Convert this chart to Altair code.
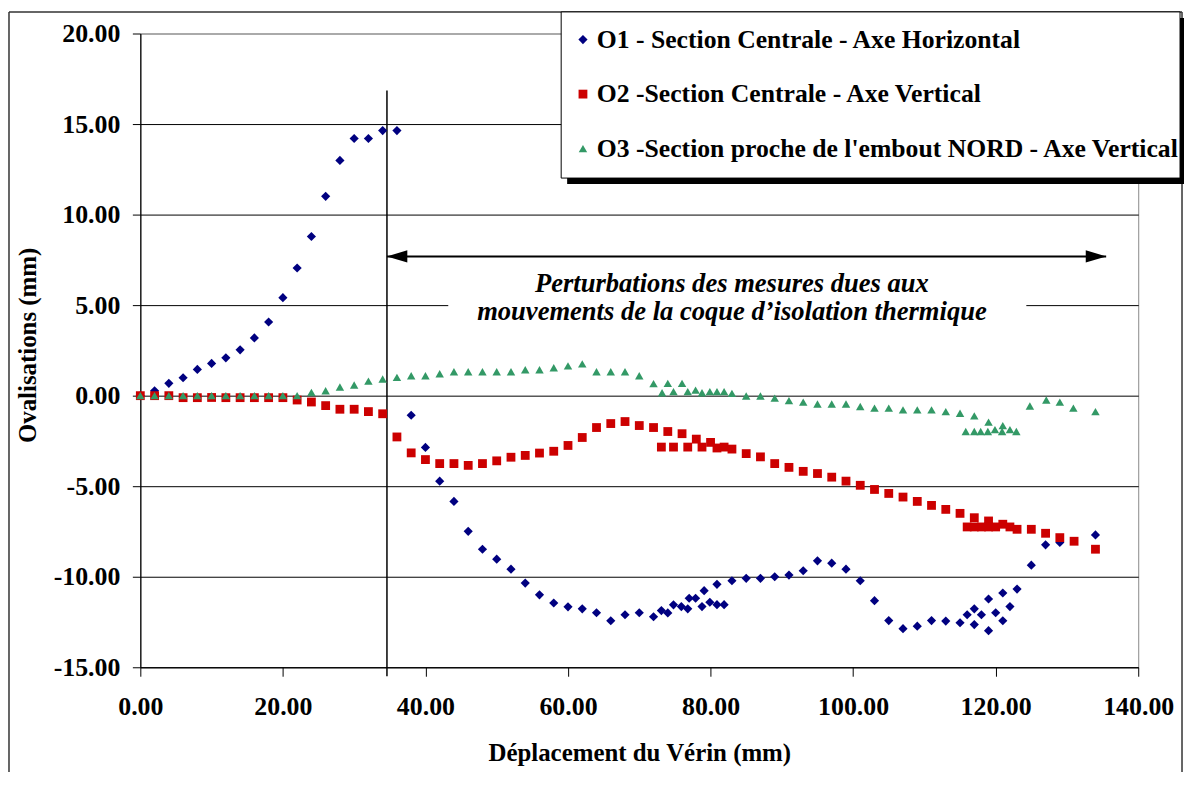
import altair as alt
import pandas as pd

FONT = "'Liberation Serif', 'Times New Roman', Times, serif"

# ---------------- data ----------------
series_names = [
    "O1 - Section Centrale - Axe Horizontal",
    "O2 -Section Centrale - Axe Vertical",
    "O3 -Section proche de l'embout NORD - Axe Vertical",
]
series_colors = ["#000080", "#CC0000", "#339966"]
series_shapes = ["diamond", "square", "triangle-up"]
series_sizes = [85, 72, 120]

o1_x = [0, 2, 4, 6, 8, 10, 12, 14, 16, 18, 20, 22, 24, 26, 28, 30, 32, 34, 36,
        38, 40, 42, 44, 46, 48, 50, 52, 54, 56, 58, 60, 62, 64, 66, 68, 70, 72,
        73.1, 74, 74.8, 75.9, 76.8, 77, 77.9, 78.8, 79.1, 79.9, 80.9, 80.9, 81.9,
        83, 85, 87, 89, 91, 93, 95, 97, 99, 101, 103, 105, 107, 109, 111, 113, 115,
        116, 117, 117, 118, 119, 119, 120, 121, 121, 122, 123,
        125, 127, 129, 134]
o1_y = [0, 0.27, 0.68, 0.99, 1.45, 1.78, 2.09, 2.53, 3.19, 4.07, 5.41, 7.05, 8.79,
        11.01, 12.99, 14.2, 14.2, 14.64, 14.64,
        -1.08, -2.86, -4.72, -5.84, -7.49, -8.48, -9.03, -9.58, -10.35, -11.0,
        -11.45, -11.66, -11.77, -11.99, -12.43, -12.1, -11.99, -12.21,
        -11.87, -12.0, -11.55, -11.65, -11.77, -11.19, -11.19, -11.65, -10.77,
        -11.41, -10.42, -11.54, -11.54,
        -10.22, -10.09, -10.09, -10.0, -9.91, -9.67, -9.12, -9.25, -9.58, -10.22,
        -11.32, -12.42, -12.87, -12.73, -12.42, -12.45, -12.54,
        -12.1, -11.77, -12.64, -12.1, -11.23, -12.98, -11.99, -10.9, -12.43,
        -11.65, -10.68,
        -9.36, -8.24, -8.11, -7.69]

o2_x = [0, 2, 4, 6, 8, 10, 12, 14, 16, 18, 20, 22, 24, 26, 28, 30, 32, 34, 36,
        38, 40, 42, 44, 46, 48, 50, 52, 54, 56, 58, 60, 62, 64, 66, 68, 70, 72,
        74, 76, 78, 80,
        73.1, 74.8, 76.8, 78.8, 80.9, 81.9,
        83, 85, 87, 89, 91, 93, 95, 97, 99, 101, 103, 105, 107, 109, 111, 113,
        115, 117, 119, 121,
        116, 117, 118, 119, 120, 122, 123, 125, 127, 129, 131, 134]
o2_y = [0, 0, 0, -0.11, -0.11, -0.1, -0.11, -0.11, -0.11, -0.11, -0.11, -0.24,
        -0.35, -0.55, -0.75, -0.75, -0.88, -1.0, -2.28,
        -3.16, -3.53, -3.75, -3.75, -3.85, -3.75, -3.6, -3.4, -3.3, -3.17, -3.07,
        -2.75, -2.31, -1.76, -1.54, -1.43, -1.65, -1.76,
        -1.98, -2.1, -2.4, -2.58,
        -2.84, -2.84, -2.84, -2.84, -2.89, -2.84,
        -2.95, -3.2, -3.38, -3.75, -3.96, -4.18, -4.3, -4.5, -4.72, -4.95, -5.18,
        -5.4, -5.6, -5.84, -6.06, -6.28, -6.5, -6.74, -6.92, -7.1,
        -7.25, -7.25, -7.25, -7.25, -7.25, -7.25, -7.38, -7.38, -7.6, -7.84,
        -8.04, -8.48]

o3_x = [0, 2, 4, 6, 8, 10, 12, 14, 16, 18, 20, 22, 24, 26, 28, 30, 32, 34, 36,
        38, 40, 42, 44, 46, 48, 50, 52, 54, 56, 58, 60, 62, 64, 66, 68, 70, 72,
        74, 76,
        73.2, 74.8, 76.8, 77.9, 78.8, 79.9, 80.9, 81.9,
        83, 85, 87, 89, 91, 93, 95, 97, 99, 101, 103, 105, 107, 109, 111, 113,
        115, 117, 119, 121,
        115.8, 117, 117.9, 118.9, 119.9, 120.9, 122, 122.9,
        124.8, 127.1, 129, 130.9, 134]
o3_y = [0, 0, 0, 0, 0, 0, 0, 0, 0, 0, 0, 0, 0.18, 0.27, 0.48, 0.59, 0.8, 0.92,
        1.01, 1.1, 1.1, 1.21, 1.32, 1.32, 1.32, 1.32, 1.32, 1.43, 1.43, 1.54,
        1.65, 1.76, 1.32, 1.32, 1.32, 1.1, 0.66, 0.68, 0.68,
        0.16, 0.22, 0.22, 0.31, 0.16, 0.22, 0.22, 0.22,
        0.13, -0.02, -0.02, -0.14, -0.27, -0.36, -0.46, -0.46, -0.46, -0.6,
        -0.69, -0.69, -0.79, -0.79, -0.79, -0.88, -0.97, -1.12, -1.46, -1.65,
        -1.98, -1.98, -1.98, -1.98, -1.88, -1.98, -1.88, -1.98,
        -0.57, -0.24, -0.36, -0.69, -0.88]

x_ticks = [0, 20, 40, 60, 80, 100, 120, 140]
y_ticks = [-15, -10, -5, 0, 5, 10, 15, 20]

x_title = "Déplacement du Vérin (mm)"
y_title = "Ovalisations (mm)"
note_lines = ["Perturbations des mesures dues aux",
              "mouvements de la coque d\u2019isolation thermique"]

# annotation geometry (data units)
marker_x = [34.6]
marker_y = [16.85, -15.5]
arrow_x = [34.6, 135.5]
arrow_y = [7.69]
note_x = [83.0]
note_y = [6.19]
note_box_x = [43.2, 124.3]
note_box_y = [3.7, 6.6]

# ---------------- tables ----------------
rows = []
for name, xs, ys in zip(series_names, [o1_x, o2_x, o3_x], [o1_y, o2_y, o3_y]):
    for xv, yv in zip(xs, ys):
        rows.append({"serie": name, "x": xv, "y": yv})
df = pd.DataFrame(rows)

x_scale = alt.Scale(domain=[0, 140], nice=False, zero=False)
y_scale = alt.Scale(domain=[-15, 20], nice=False, zero=False)

x_axis = alt.Axis(
    values=x_ticks, labelExpr="format(datum.value, '.2f')", grid=False,
    labelFont=FONT, labelFontSize=26, labelFontWeight="bold", labelColor="black",
    labelFlush=False, labelOverlap=False, labelPadding=17, tickSize=9,
    tickColor="black", domainColor="black", domainWidth=1.2,
    titleFont=FONT, titleFontSize=25, titleFontWeight="bold", titleColor="black",
    titleBaseline="middle", titleY=85.5,
)
y_axis = alt.Axis(
    values=y_ticks,
    labelExpr="(datum.value < 0 ? '-' : '') + format(abs(datum.value), '.2f')",
    grid=True,
    gridColor={"condition": {"test": "datum.value === 20", "value": "#909090"},
               "value": "black"},
    gridWidth=1,
    labelFont=FONT, labelFontSize=26, labelFontWeight="bold", labelColor="black",
    labelFlush=False, labelOverlap=False, labelPadding=12.5, tickSize=8,
    tickColor="black", domainColor="black", domainWidth=1.2,
    titleFont=FONT, titleFontSize=25, titleFontWeight="bold", titleColor="black",
    titleAngle=270, titleBaseline="middle", titleAlign="center",
    titleX=-113, titleY=313,
)

dummy = alt.Data(values=[{"k": 1}])

# legend box shadow and box
shadow = alt.Chart(dummy).mark_rect(color="black").encode(
    x=alt.value(429), x2=alt.value(1050),
    y=alt.value(-15.7), y2=alt.value(151.3),
)
legend_box = alt.Chart(dummy).mark_rect(fill="white", stroke="black", strokeWidth=1).encode(
    x=alt.value(423), x2=alt.value(1045),
    y=alt.value(-21.7), y2=alt.value(145.3),
)

# outer frame (left, top, right edges)
frame_l = alt.Chart(dummy).mark_rule(color="#333333", strokeWidth=1.5).encode(
    x=alt.value(-132), y=alt.value(-21.7), y2=alt.value(900))
frame_r = alt.Chart(dummy).mark_rule(color="#333333", strokeWidth=1.5).encode(
    x=alt.value(1047), y=alt.value(-21.7), y2=alt.value(900))
frame_t = alt.Chart(dummy).mark_rule(color="#333333", strokeWidth=1.5).encode(
    x=alt.value(-132), x2=alt.value(1047), y=alt.value(-21.7))

# white box behind annotation text
box_df = pd.DataFrame({"x": [note_box_x[0]], "x2": [note_box_x[1]],
                       "y": [note_box_y[0]], "y2": [note_box_y[1]]})
note_box = alt.Chart(box_df).mark_rect(color="white").encode(
    x=alt.X("x:Q", scale=x_scale), x2="x2:Q",
    y=alt.Y("y:Q", scale=y_scale), y2="y2:Q",
)

# vertical marker line
vline_df = pd.DataFrame({"x": marker_x, "y": [marker_y[0]], "y2": [marker_y[1]]})
vline = alt.Chart(vline_df).mark_rule(color="black", strokeWidth=1.5).encode(
    x=alt.X("x:Q", scale=x_scale), y=alt.Y("y:Q", scale=y_scale), y2="y2:Q",
)

# horizontal double arrow
hline_df = pd.DataFrame({"x": [arrow_x[0]], "x2": [arrow_x[1]], "y": arrow_y})
hline = alt.Chart(hline_df).mark_rule(color="black", strokeWidth=2).encode(
    x=alt.X("x:Q", scale=x_scale), x2="x2:Q", y=alt.Y("y:Q", scale=y_scale),
)
head_l = alt.Chart(pd.DataFrame({"x": [arrow_x[0]], "y": arrow_y})).mark_point(
    shape="M0,0L2,-0.6L2,0.6Z", filled=True, color="black", opacity=1, size=420,
    strokeWidth=0).encode(x=alt.X("x:Q", scale=x_scale), y=alt.Y("y:Q", scale=y_scale))
head_r = alt.Chart(pd.DataFrame({"x": [arrow_x[1]], "y": arrow_y})).mark_point(
    shape="M0,0L-2,-0.6L-2,0.6Z", filled=True, color="black", opacity=1, size=420,
    strokeWidth=0).encode(x=alt.X("x:Q", scale=x_scale), y=alt.Y("y:Q", scale=y_scale))

# annotation text
note = alt.Chart(pd.DataFrame({"x": note_x, "y": note_y})).mark_text(
    text=note_lines, font=FONT, fontSize=26.7, fontWeight="bold", fontStyle="italic",
    color="black", align="center", baseline="middle", lineHeight=29,
).encode(x=alt.X("x:Q", scale=x_scale), y=alt.Y("y:Q", scale=y_scale))

# data points
points = alt.Chart(df).mark_point(filled=True, opacity=1, strokeWidth=0).encode(
    x=alt.X("x:Q", scale=x_scale, axis=x_axis, title=x_title),
    y=alt.Y("y:Q", scale=y_scale, axis=y_axis, title=y_title),
    color=alt.Color("serie:N", scale=alt.Scale(domain=series_names, range=series_colors),
                    legend=alt.Legend(
                        title=None, orient="none", legendX=428, legendY=-6.8,
                        direction="vertical", padding=0, rowPadding=27.8,
                        labelFont=FONT, labelFontSize=25.8,
                        labelFontWeight="bold", labelColor="black", labelLimit=2000,
                        labelOffset=1, symbolOffset=4, symbolSize=50,
                        symbolStrokeWidth=0)),
    shape=alt.Shape("serie:N", scale=alt.Scale(domain=series_names, range=series_shapes)),
    size=alt.Size("serie:N", scale=alt.Scale(domain=series_names, range=series_sizes),
                  legend=None),
)

chart = alt.layer(
    frame_l, frame_r, frame_t, shadow, legend_box, note_box, vline, hline,
    head_l, head_r, note, points
).properties(
    width=1003, height=637,
    autosize=alt.AutoSizeParams(type="none"),
    padding={"left": 133, "top": 23.7, "right": 46, "bottom": 103},
    background="white",
).configure_view(stroke="#888888", strokeWidth=1)

chart.save("out.html", embed_options={"renderer": "svg", "actions": False})
